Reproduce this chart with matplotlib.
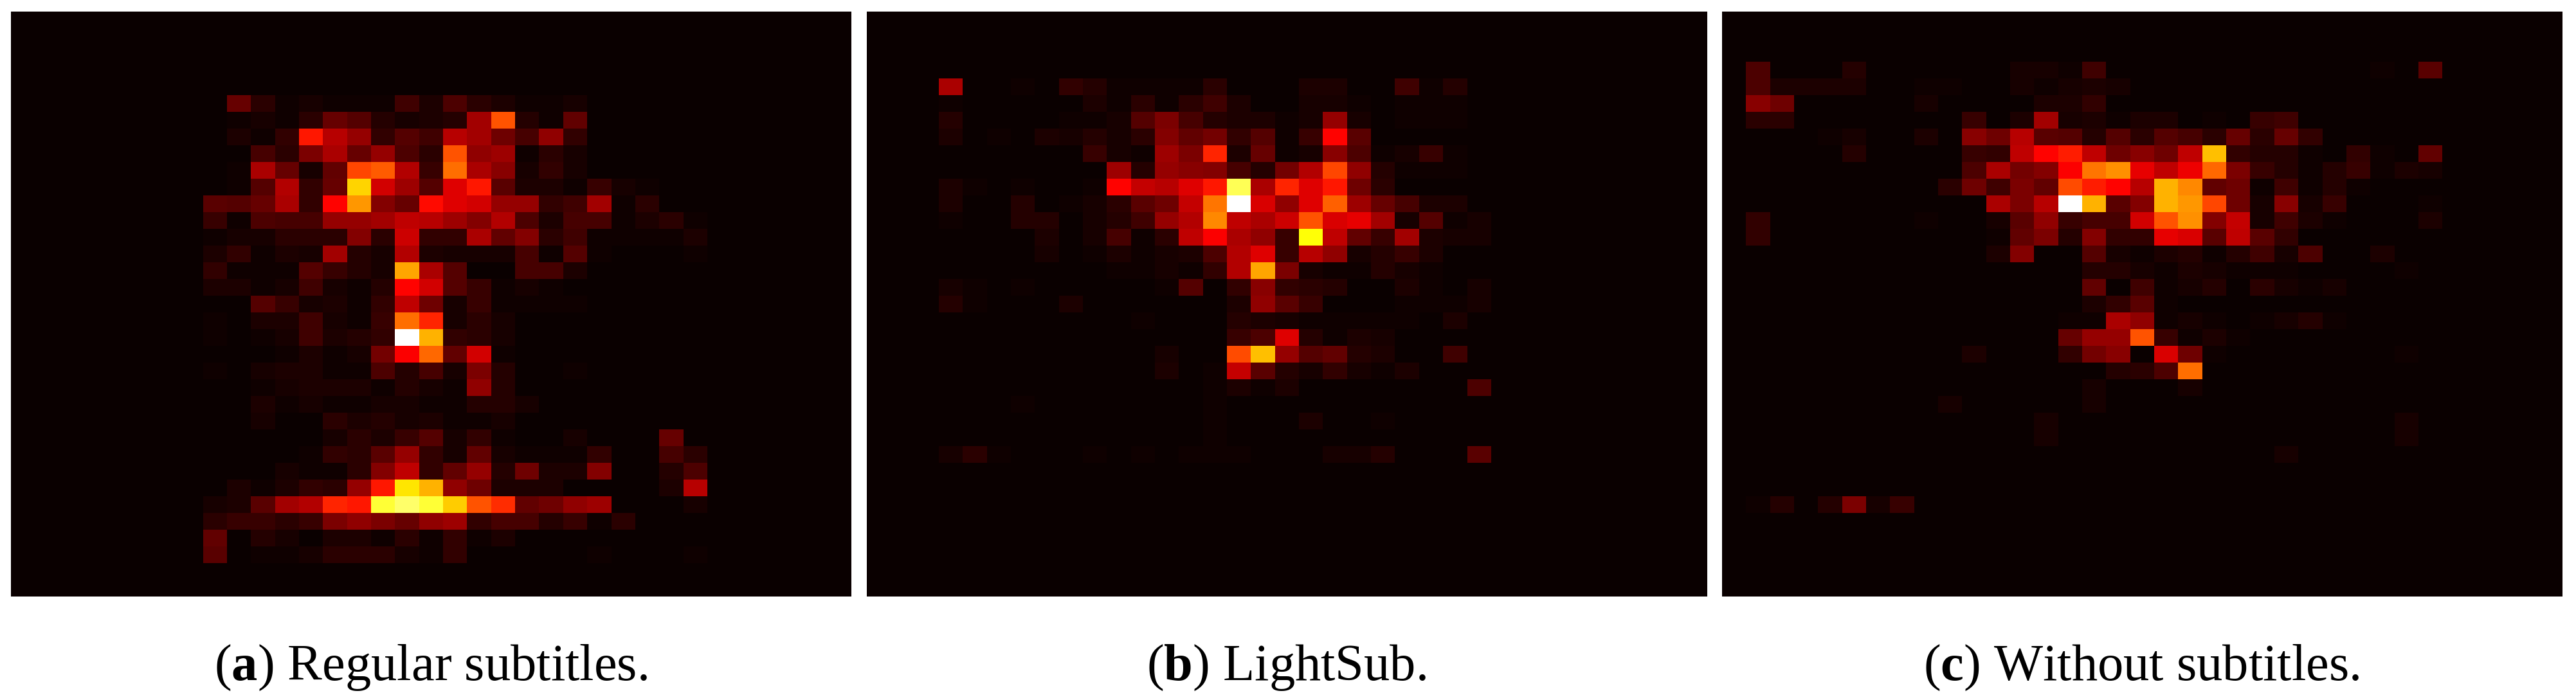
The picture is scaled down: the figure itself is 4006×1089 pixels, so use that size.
import numpy as np
import matplotlib
matplotlib.use("Agg")
import matplotlib.pyplot as plt

plt.rcParams["font.family"] = ["Liberation Serif", "DejaVu Serif"]
plt.rcParams["mathtext.fontset"] = "custom"
plt.rcParams["mathtext.rm"] = "Liberation Serif"
plt.rcParams["mathtext.bf"] = "Liberation Serif:bold"

GRID = 35

# ========== Gaze density (percent of the panel peak) ==========
# each list starts at row/col given by *_start, short rows are zero to the right
regular_start = (5, 8)
regular = [
    [0, 14, 5, 1, 2, 1, 1, 1, 8, 3, 10, 5, 3, 1, 1, 2],
    [0, 1, 2, 1, 5, 14, 11, 4, 2, 3, 4, 23, 49, 4, 1, 13],
    [0, 3, 1, 6, 40, 26, 21, 6, 11, 8, 26, 23, 15, 9, 20, 6],
    [0, 0, 9, 5, 17, 24, 14, 21, 10, 5, 49, 20, 22, 1, 5, 2],
    [0, 1, 24, 14, 2, 13, 47, 50, 25, 7, 53, 24, 19, 2, 6, 2],
    [0, 1, 11, 25, 6, 14, 68, 30, 22, 11, 32, 40, 12, 3, 3, 1, 7, 2, 1],
    [12, 11, 14, 24, 6, 37, 59, 18, 14, 38, 32, 30, 21, 21, 6, 8, 23, 1, 5],
    [7, 1, 10, 9, 9, 21, 21, 23, 27, 26, 22, 18, 25, 10, 3, 9, 9, 1, 3, 5, 1],
    [1, 2, 2, 5, 5, 5, 18, 5, 29, 6, 6, 24, 13, 18, 5, 8, 1, 1, 1, 1, 3],
    [3, 6, 1, 3, 2, 23, 4, 2, 25, 3, 2, 2, 2, 9, 1, 11, 1, 0, 0, 0, 1],
    [6, 1, 1, 1, 11, 7, 4, 2, 61, 24, 11, 0, 0, 9, 9, 3],
    [3, 3, 1, 2, 8, 2, 1, 4, 37, 30, 11, 7, 1, 2, 1],
    [0, 0, 11, 7, 2, 3, 1, 6, 27, 15, 2, 7, 1, 1, 1, 1],
    [1, 0, 3, 3, 8, 2, 1, 7, 53, 42, 2, 5, 2],
    [1, 0, 1, 2, 8, 3, 4, 6, 100, 63, 6, 5, 2],
    [0, 0, 0, 1, 3, 1, 2, 16, 36, 52, 13, 30, 1],
    [1, 0, 2, 3, 3, 1, 1, 10, 4, 9, 2, 17, 4, 0, 0, 1],
    [0, 0, 1, 2, 3, 3, 3, 1, 4, 2, 1, 20, 4],
    [0, 0, 3, 1, 2, 1, 1, 2, 2, 1, 1, 4, 4, 2],
    [0, 0, 2, 0, 0, 5, 3, 4, 2, 3, 1, 1, 2],
    [0, 0, 0, 0, 0, 2, 5, 3, 7, 11, 2, 6, 1, 0, 0, 2, 0, 0, 0, 14],
    [0, 0, 0, 0, 1, 6, 5, 12, 21, 6, 2, 13, 2, 1, 1, 1, 6, 0, 0, 9, 5],
    [0, 0, 0, 2, 1, 1, 5, 18, 27, 6, 13, 21, 4, 15, 3, 3, 18, 0, 0, 4, 10],
    [0, 3, 1, 3, 6, 5, 21, 40, 71, 63, 20, 15, 3, 3, 3, 0, 0, 0, 0, 3, 26],
    [2, 3, 12, 23, 25, 42, 40, 80, 85, 80, 67, 49, 43, 13, 15, 20, 22, 0, 0, 0, 2],
    [5, 7, 7, 5, 7, 17, 20, 17, 14, 20, 22, 6, 9, 9, 4, 7, 1, 5],
    [13, 0, 4, 2, 0, 3, 3, 1, 5, 1, 6, 1, 3],
    [12, 0, 1, 1, 2, 5, 5, 5, 2, 1, 6, 0, 0, 0, 0, 0, 1, 0, 0, 0, 1],
]

lightsub_start = (4, 3)
lightsub = [
    [24, 0, 0, 1, 0, 6, 4, 1, 1, 1, 1, 5, 0, 0, 0, 3, 3, 0, 0, 8, 1, 4],
    [1, 0, 0, 0, 0, 0, 3, 1, 5, 1, 5, 8, 3, 0, 0, 2, 2, 1, 0, 1, 1, 1],
    [4, 0, 0, 0, 0, 1, 1, 2, 11, 17, 9, 4, 3, 3, 1, 2, 21, 2, 0, 1, 1, 1],
    [3, 0, 1, 0, 3, 2, 4, 2, 5, 18, 13, 16, 6, 11, 1, 7, 37, 12],
    [0, 0, 0, 0, 0, 0, 7, 2, 1, 22, 17, 42, 3, 14, 1, 2, 19, 10, 1, 2, 7, 1],
    [0, 0, 0, 0, 0, 0, 0, 22, 4, 21, 19, 18, 9, 4, 16, 25, 47, 20, 4, 1, 1, 1],
    [3, 1, 0, 1, 0, 0, 1, 37, 28, 26, 32, 40, 83, 24, 42, 32, 40, 15, 5],
    [3, 0, 0, 4, 0, 1, 2, 5, 12, 15, 28, 54, 100, 31, 20, 32, 51, 22, 14, 9, 3, 3],
    [1, 0, 0, 4, 4, 0, 2, 4, 8, 21, 25, 57, 27, 24, 29, 49, 31, 33, 23, 2, 11, 1, 2],
    [0, 0, 0, 0, 3, 0, 2, 9, 1, 5, 27, 36, 24, 20, 7, 75, 27, 13, 7, 23, 3, 2, 2],
    [0, 0, 0, 0, 2, 0, 1, 3, 1, 2, 3, 10, 25, 32, 7, 26, 20, 2, 4, 7, 3],
    [0, 0, 0, 0, 0, 0, 0, 1, 1, 2, 1, 6, 25, 61, 17, 2, 1, 1, 4, 2, 1],
    [2, 1, 0, 1, 0, 0, 0, 0, 0, 1, 11, 0, 6, 19, 6, 5, 4, 0, 0, 3, 1, 0, 2],
    [4, 1, 0, 0, 0, 3, 0, 0, 0, 0, 0, 0, 3, 20, 12, 7, 0, 0, 0, 1, 1, 1, 2],
    [0, 0, 0, 0, 0, 0, 0, 0, 1, 0, 0, 0, 4, 3, 2, 1, 1, 1, 1, 1, 0, 3],
    [0, 0, 0, 0, 0, 0, 0, 0, 0, 0, 0, 0, 7, 10, 32, 4, 1, 3, 2],
    [0, 0, 0, 0, 0, 0, 0, 0, 0, 2, 0, 0, 48, 65, 21, 11, 13, 4, 3, 0, 0, 8],
    [0, 0, 0, 0, 0, 0, 0, 0, 0, 3, 0, 1, 28, 12, 4, 2, 6, 2, 1, 3],
    [0, 0, 0, 0, 0, 0, 0, 0, 0, 0, 0, 1, 3, 1, 3, 0, 0, 0, 0, 0, 0, 0, 10],
    [0, 0, 0, 1, 0, 0, 0, 0, 0, 0, 0, 1],
    [0, 0, 0, 0, 0, 0, 0, 0, 0, 0, 0, 1, 0, 0, 0, 3, 0, 0, 1],
    [0, 0, 0, 0, 0, 0, 0, 0, 0, 0, 0, 1],
    [2, 5, 1, 0, 0, 0, 1, 0, 1, 0, 1, 1, 1, 0, 0, 0, 2, 2, 4, 0, 0, 0, 12],
]

nosub_start = (3, 1)
nosub = [
    [10, 0, 0, 0, 4, 0, 0, 0, 0, 0, 0, 2, 2, 1, 8, 0, 0, 0, 0, 0, 0, 0, 0, 0, 0, 0, 1, 0, 12],
    [10, 3, 3, 3, 3, 0, 0, 1, 1, 0, 0, 2, 1, 2, 3, 2],
    [19, 15, 0, 0, 0, 0, 0, 2, 0, 0, 0, 0, 3, 3, 6],
    [5, 5, 0, 0, 0, 0, 0, 0, 0, 7, 0, 3, 23, 2, 3, 1, 3, 3, 0, 1, 0, 7, 8],
    [0, 0, 0, 1, 2, 0, 0, 3, 0, 19, 15, 26, 12, 11, 4, 11, 5, 11, 9, 5, 14, 5, 14, 6],
    [0, 0, 0, 0, 4, 0, 0, 0, 0, 7, 6, 27, 37, 41, 27, 15, 19, 15, 27, 65, 6, 4, 4, 1, 0, 6, 1, 0, 13],
    [0, 0, 0, 0, 0, 0, 0, 0, 0, 10, 24, 16, 18, 36, 54, 58, 33, 27, 34, 52, 17, 7, 4, 1, 4, 7, 1, 3, 2],
    [0, 0, 0, 0, 0, 0, 0, 0, 5, 15, 8, 17, 13, 48, 41, 37, 26, 63, 57, 13, 15, 1, 8, 1, 4, 1],
    [0, 0, 0, 0, 0, 0, 0, 0, 0, 0, 24, 17, 26, 100, 63, 12, 18, 63, 59, 47, 15, 2, 19, 2, 7, 0, 0, 0, 1],
    [6, 0, 0, 0, 0, 0, 0, 1, 0, 0, 2, 12, 20, 7, 9, 9, 30, 49, 58, 18, 28, 2, 8, 3, 1, 0, 0, 0, 3],
    [6, 0, 0, 0, 0, 0, 0, 0, 0, 0, 1, 13, 17, 4, 18, 6, 6, 33, 31, 12, 27, 12, 6],
    [0, 0, 0, 0, 0, 0, 0, 0, 0, 0, 3, 18, 0, 0, 11, 2, 1, 3, 4, 1, 4, 8, 2, 10, 0, 0, 3],
    [0, 0, 0, 0, 0, 0, 0, 0, 0, 0, 0, 0, 0, 0, 4, 4, 2, 1, 3, 2, 1, 1, 1, 0, 0, 0, 0, 1],
    [0, 0, 0, 0, 0, 0, 0, 0, 0, 0, 0, 0, 0, 0, 13, 0, 8, 1, 2, 4, 0, 5, 2, 1, 2],
    [0, 0, 0, 0, 0, 0, 0, 0, 0, 0, 0, 0, 0, 0, 3, 6, 12, 1],
    [0, 0, 0, 0, 0, 0, 0, 0, 0, 0, 0, 0, 0, 1, 1, 24, 20, 1, 2, 1, 0, 1, 2, 4, 1],
    [0, 0, 0, 0, 0, 0, 0, 0, 0, 0, 0, 0, 0, 14, 21, 21, 49, 7, 1, 3, 1],
    [0, 0, 0, 0, 0, 0, 0, 0, 0, 3, 0, 0, 0, 6, 16, 19, 0, 31, 15, 1, 0, 0, 0, 0, 0, 0, 0, 1],
    [0, 0, 0, 0, 0, 0, 0, 0, 0, 0, 0, 0, 0, 0, 0, 4, 5, 10, 53],
    [0, 0, 0, 0, 0, 0, 0, 0, 0, 0, 0, 0, 0, 0, 2, 0, 0, 0, 2],
    [0, 0, 0, 0, 0, 0, 0, 0, 2, 0, 0, 0, 0, 0, 2],
    [0, 0, 0, 0, 0, 0, 0, 0, 0, 0, 0, 0, 2, 0, 0, 0, 0, 0, 0, 0, 0, 0, 0, 0, 0, 0, 0, 2],
    [0, 0, 0, 0, 0, 0, 0, 0, 0, 0, 0, 0, 2, 0, 0, 0, 0, 0, 0, 0, 0, 0, 0, 0, 0, 0, 0, 2],
    [0, 0, 0, 0, 0, 0, 0, 0, 0, 0, 0, 0, 0, 0, 0, 0, 0, 0, 0, 0, 0, 0, 2],
    [],
    [],
    [1, 4, 0, 4, 17, 2, 7],
]

letters = ["a", "b", "c"]
captions = ["Regular subtitles.", "LightSub.", "Without subtitles."]


def to_grid(rows, start):
    grid = np.zeros((GRID, GRID))
    for i, row in enumerate(rows):
        grid[start[0] + i, start[1]:start[1] + len(row)] = row
    return grid


# ========== Figure ==========
W, H = 4006, 1089
fig = plt.figure(figsize=(W / 100, H / 100), dpi=100)

panels = [(regular, regular_start, 17, 1324, 670),
          (lightsub, lightsub_start, 1348, 2655, 2000),
          (nosub, nosub_start, 2678, 3985, 3330)]

for (rows, start, left, right, cap_x), letter, caption in zip(panels, letters, captions):
    ax = fig.add_axes([left / W, 1 - 928 / H, (right - left) / W, 910 / H])
    ax.imshow(to_grid(rows, start), cmap="hot", vmin=0, vmax=100,
              aspect="auto", interpolation="nearest")
    ax.axis("off")
    fig.text(cap_x / W, 1 - 1058 / H, rf"($\mathbf{{{letter}}}$) {caption}",
             ha="center", va="baseline", fontsize=58, color="black")

plt.savefig("out.png", dpi=100)
